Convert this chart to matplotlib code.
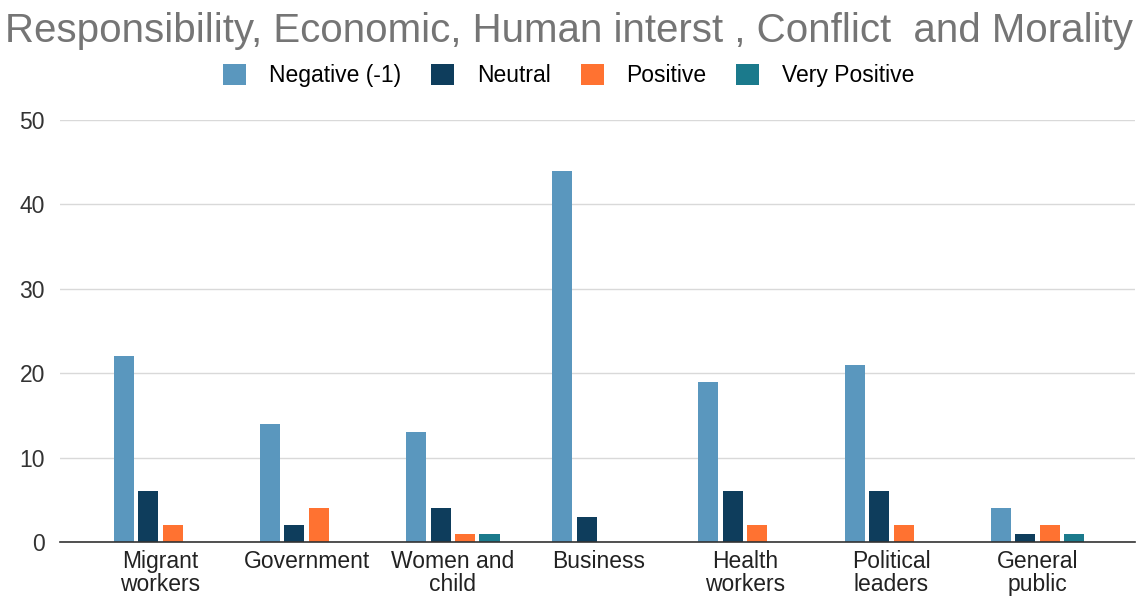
import numpy as np
import matplotlib.pyplot as plt
from matplotlib.patches import Patch

plt.rcParams["font.family"] = ["Liberation Sans", "DejaVu Sans"]

categories = ["Migrant\nworkers", "Government", "Women and\nchild", "Business",
              "Health\nworkers", "Political\nleaders", "General\npublic"]
series_names = ["Negative (-1)", "Neutral", "Positive", "Very Positive"]
negative = [22, 14, 13, 44, 19, 21, 4]
neutral = [6, 2, 4, 3, 6, 6, 1]
positive = [2, 4, 1, 0, 2, 2, 2]
very_positive = [0, 0, 1, 0, 0, 0, 1]

colors = ["#5A97BE", "#0E3D5C", "#FF7231", "#1B7A8C"]
yticks = [0, 10, 20, 30, 40, 50]

fig = plt.figure(figsize=(11.38, 5.97), dpi=100)
ax = fig.add_axes([0.053, 0.092, 0.944, 0.707])

x = np.arange(len(categories))
pitch = 0.1675
width = 0.137
for i, (vals, col) in enumerate(zip([negative, neutral, positive, very_positive], colors)):
    offs = (i - 1.5) * pitch
    ax.bar(x + offs, vals, width=width, color=col, zorder=3)

ax.set_xlim(-0.684, 6.663)
ax.set_ylim(0, 50)
ax.set_yticks(yticks)
ax.set_xticks(x)
ax.set_xticklabels(categories, fontsize=16.5, color="#222222", linespacing=1.0)
ax.tick_params(axis="y", labelsize=16.5, labelcolor="#333333", length=0, pad=11)
ax.tick_params(axis="x", length=0, pad=6)
ax.grid(axis="y", color="#d9d9d9", linewidth=1, zorder=0)
for s in ["top", "right", "left"]:
    ax.spines[s].set_visible(False)
ax.spines["bottom"].set_color("#333333")
ax.spines["bottom"].set_linewidth(1.2)
ax.spines["bottom"].set_zorder(4)

fig.text(0.5, 0.948, "Responsibility, Economic, Human interst , Conflict  and Morality",
         ha="center", va="center", fontsize=29, color="#757575")

handles = [Patch(facecolor=c, edgecolor="none") for c in colors]
fig.legend(handles, series_names, loc="center", bbox_to_anchor=(0.5, 0.873), ncol=4,
           frameon=False, fontsize=16.5, handlelength=1.0, handleheight=1.0,
           columnspacing=1.3, handletextpad=1.0)

fig.savefig("out.png", dpi=100)
